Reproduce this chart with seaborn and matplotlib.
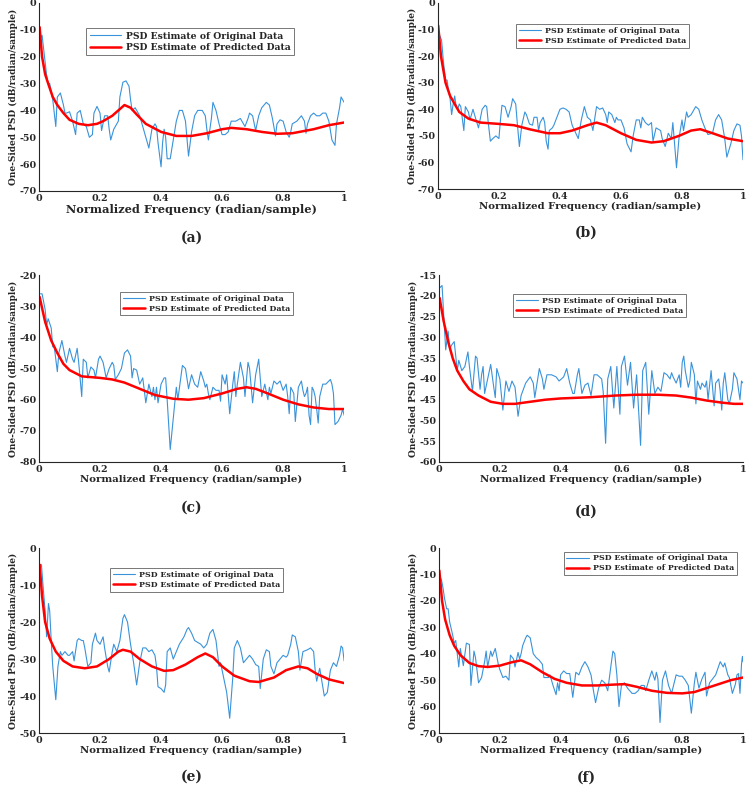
import numpy as np
import matplotlib
matplotlib.use("Agg")
import matplotlib.pyplot as plt
import seaborn as sns

# ---- panel (a) ----
a_orig_f = [0.005, 0.01, 0.015, 0.025, 0.03, 0.035, 0.04, 0.045, 0.055, 0.06,
            0.07, 0.08, 0.085, 0.09, 0.10, 0.11, 0.12, 0.125, 0.135, 0.145,
            0.155, 0.165, 0.175, 0.18, 0.19, 0.20, 0.205, 0.215, 0.225, 0.23,
            0.235, 0.245, 0.255, 0.26, 0.265, 0.275, 0.285, 0.295, 0.30, 0.305,
            0.315, 0.33, 0.34, 0.35, 0.36, 0.37, 0.38, 0.385, 0.39, 0.40,
            0.405, 0.41, 0.415, 0.42, 0.43, 0.44, 0.45, 0.46, 0.47, 0.48,
            0.49, 0.50, 0.51, 0.52, 0.535, 0.545, 0.55, 0.555, 0.565, 0.57,
            0.58, 0.59, 0.60, 0.61, 0.62, 0.63, 0.645, 0.66, 0.67, 0.675,
            0.685, 0.69, 0.70, 0.71, 0.72, 0.73, 0.745, 0.755, 0.765, 0.775,
            0.78, 0.79, 0.80, 0.81, 0.82, 0.825, 0.83, 0.845, 0.86, 0.87,
            0.875, 0.88, 0.89, 0.90, 0.91, 0.92, 0.93, 0.94, 0.95, 0.96,
            0.97, 0.975, 0.985, 0.99, 1.0]
a_orig_psd = [-13, -12, -17, -27, -30, -30, -33, -36, -46, -35,
              -33.5, -38, -41, -41, -40.5, -44, -49, -41, -40, -45,
              -46, -50, -49, -41, -38.5, -41, -47.5, -42, -42, -47,
              -51, -47, -45, -44, -35, -29.5, -29, -31, -36, -40,
              -39, -42, -46, -50, -54, -47, -45, -46, -52, -61,
              -52, -47, -50, -58, -58, -51, -44, -40, -40, -44,
              -57, -48, -42, -40, -40, -42, -47, -51, -43, -37,
              -40, -45, -49, -49, -48, -44, -44, -43, -45, -46,
              -43, -41, -42, -47.5, -42, -39, -37, -38, -43, -49.5,
              -45, -43.5, -44, -48, -50, -48, -45, -44, -42, -44,
              -48.5, -45, -42, -41, -42, -42, -41, -41, -44, -51,
              -53, -45, -39, -35, -37]
a_pred_f = [0.002, 0.01, 0.02, 0.03, 0.045, 0.06, 0.08, 0.1, 0.13, 0.16,
            0.19, 0.21, 0.24, 0.265, 0.28, 0.3, 0.32, 0.35, 0.4, 0.45,
            0.5, 0.55, 0.6, 0.63, 0.68, 0.73, 0.78, 0.83, 0.9, 0.95, 1.0]
a_pred_psd = [-9, -20, -26.5, -30, -35, -38, -41, -43.5, -45, -45.5,
              -45, -44, -42, -39.5, -38, -39, -41.5, -45, -48, -49.5,
              -49.5, -48.5, -47, -46.5, -47, -48, -48.7, -48.5, -47, -45.5, -44.5]

# ---- panel (b) ----
b_orig_f = [0.005, 0.012, 0.018, 0.025, 0.03, 0.035, 0.04, 0.045, 0.05, 0.055,
            0.06, 0.065, 0.07, 0.075, 0.085, 0.09, 0.10, 0.105, 0.115, 0.12,
            0.133, 0.145, 0.155, 0.16, 0.165, 0.172, 0.18, 0.19, 0.20, 0.205,
            0.21, 0.22, 0.23, 0.24, 0.245, 0.255, 0.26, 0.267, 0.275, 0.285,
            0.29, 0.30, 0.31, 0.315, 0.325, 0.33, 0.335, 0.345, 0.35, 0.355,
            0.361, 0.365, 0.375, 0.38, 0.39, 0.40, 0.41, 0.42, 0.43, 0.44,
            0.46, 0.47, 0.48, 0.49, 0.50, 0.508, 0.52, 0.53, 0.54, 0.55,
            0.555, 0.56, 0.57, 0.58, 0.585, 0.59, 0.60, 0.61, 0.62, 0.633,
            0.64, 0.65, 0.66, 0.665, 0.67, 0.68, 0.69, 0.70, 0.705, 0.715,
            0.73, 0.735, 0.745, 0.755, 0.765, 0.77, 0.775, 0.782, 0.79, 0.80,
            0.805, 0.815, 0.82, 0.83, 0.845, 0.855, 0.865, 0.875, 0.885, 0.90,
            0.91, 0.92, 0.93, 0.94, 0.947, 0.96, 0.97, 0.98, 0.99, 0.995,
            1.0]
b_orig_psd = [-12, -14, -22, -29, -29, -33, -36, -42, -38, -35,
              -39, -40, -38, -39, -48, -39, -41, -44, -40, -42,
              -47, -40, -38.5, -39, -45, -52, -51, -50, -51, -44,
              -38.5, -39, -43, -39, -36, -38, -45, -54, -46, -41,
              -42, -45.5, -46, -43, -43, -48, -45, -43, -45, -52,
              -55, -48, -47, -46, -43, -40, -39.5, -40, -41, -46,
              -51, -44, -39, -43, -44, -48, -39, -40, -39.5, -42,
              -45, -41, -42, -45, -43, -44, -44, -47, -53, -56,
              -50, -44, -44, -47, -43, -45, -46, -45, -52, -47,
              -48, -51, -54, -49, -51, -45, -52, -62, -51, -44,
              -48, -41, -43, -42, -39, -40, -44, -47, -49.5, -49,
              -44, -42, -44, -51, -58, -53, -48, -45.5, -46, -50,
              -59]
b_pred_f = [0.001, 0.01, 0.025, 0.04, 0.05, 0.07, 0.1, 0.14, 0.2, 0.25,
            0.3, 0.36, 0.4, 0.44, 0.49, 0.52, 0.55, 0.6, 0.65, 0.7,
            0.74, 0.79, 0.83, 0.86, 0.9, 0.95, 1.0]
b_pred_psd = [-8.5, -20, -30, -35, -37, -41, -43.5, -45, -45.5, -46,
              -47.5, -49, -49, -48, -46, -45, -46, -49, -51.5, -52.5,
              -52, -50, -48, -47.5, -49, -51, -52]

# ---- panel (c) ----
c_orig_f = [0.005, 0.01, 0.02, 0.025, 0.03, 0.04, 0.045, 0.05, 0.06, 0.065,
            0.075, 0.085, 0.09, 0.10, 0.11, 0.115, 0.125, 0.13, 0.14, 0.145,
            0.155, 0.16, 0.17, 0.18, 0.185, 0.195, 0.20, 0.21, 0.22, 0.23,
            0.24, 0.245, 0.25, 0.26, 0.27, 0.28, 0.29, 0.30, 0.305, 0.31,
            0.32, 0.33, 0.34, 0.345, 0.35, 0.36, 0.37, 0.375, 0.38, 0.385,
            0.39, 0.40, 0.41, 0.415, 0.42, 0.43, 0.44, 0.45, 0.455, 0.47,
            0.48, 0.49, 0.50, 0.51, 0.52, 0.53, 0.54, 0.545, 0.55, 0.555,
            0.56, 0.57, 0.58, 0.59, 0.595, 0.60, 0.61, 0.615, 0.625, 0.635,
            0.64, 0.645, 0.65, 0.66, 0.67, 0.675, 0.685, 0.69, 0.70, 0.71,
            0.72, 0.73, 0.74, 0.75, 0.755, 0.76, 0.77, 0.78, 0.79, 0.80,
            0.81, 0.815, 0.82, 0.825, 0.835, 0.84, 0.85, 0.86, 0.865, 0.87,
            0.875, 0.88, 0.885, 0.89, 0.895, 0.90, 0.905, 0.91, 0.915, 0.92,
            0.93, 0.94, 0.95, 0.955, 0.96, 0.965, 0.97, 0.98, 0.99, 0.995,
            1.0]
c_orig_psd = [-26, -26, -31, -36, -34, -37, -43, -43, -51, -45,
              -41, -46, -48, -43.5, -47, -48, -43.5, -48, -59, -47,
              -48, -53, -49.5, -50.5, -53, -47, -46, -48, -53, -50,
              -48, -49, -53.5, -52, -50, -45, -44, -46, -53, -50,
              -50.5, -55, -53, -57, -61, -55, -59, -56, -60, -56,
              -61, -55, -53, -53, -60, -76, -66, -56, -60, -49,
              -50, -56.5, -52, -55, -56, -51, -54, -56, -55, -58,
              -60, -56, -57, -57, -60.5, -52, -55, -52, -64.5, -55,
              -51, -59, -55, -48, -53, -59, -48, -50, -61, -52,
              -47, -59, -55, -60, -56, -58, -54, -55, -54, -57,
              -55, -59, -64.5, -56, -58, -67, -56, -54, -57, -59,
              -58, -56, -65, -68, -56, -57, -59, -63, -67.5, -59,
              -55, -55, -54, -53.5, -55, -58, -68, -67, -65, -63,
              -65]
c_pred_f = [0.002, 0.02, 0.04, 0.06, 0.08, 0.1, 0.14, 0.2, 0.24, 0.28,
            0.33, 0.38, 0.44, 0.49, 0.54, 0.6, 0.65, 0.68, 0.71, 0.75,
            0.8, 0.85, 0.9, 0.95, 1.0]
c_pred_psd = [-27, -35, -41, -45, -48.5, -50.5, -52.5, -53, -53.5, -54.5,
              -56.5, -58.5, -59.7, -60, -59.5, -58, -56.5, -56, -56.5, -58,
              -60, -61.5, -62.5, -63, -63]

# ---- panel (d) ----
d_orig_f = [0.003, 0.01, 0.015, 0.022, 0.03, 0.035, 0.04, 0.05, 0.06, 0.065,
            0.075, 0.085, 0.095, 0.10, 0.11, 0.12, 0.125, 0.135, 0.14, 0.145,
            0.15, 0.16, 0.17, 0.18, 0.185, 0.19, 0.20, 0.21, 0.22, 0.23,
            0.24, 0.25, 0.26, 0.27, 0.285, 0.30, 0.31, 0.315, 0.33, 0.34,
            0.345, 0.355, 0.37, 0.385, 0.395, 0.41, 0.42, 0.43, 0.44, 0.445,
            0.455, 0.46, 0.47, 0.48, 0.49, 0.50, 0.51, 0.52, 0.535, 0.54,
            0.548, 0.555, 0.565, 0.575, 0.585, 0.595, 0.60, 0.61, 0.62, 0.63,
            0.64, 0.65, 0.663, 0.67, 0.68, 0.69, 0.70, 0.71, 0.72, 0.73,
            0.74, 0.75, 0.76, 0.765, 0.77, 0.78, 0.785, 0.79, 0.795, 0.80,
            0.805, 0.81, 0.82, 0.825, 0.83, 0.84, 0.845, 0.85, 0.86, 0.865,
            0.875, 0.88, 0.885, 0.895, 0.905, 0.91, 0.92, 0.925, 0.93, 0.935,
            0.94, 0.95, 0.955, 0.965, 0.97, 0.98, 0.99, 0.995, 1.0]
d_orig_psd = [-18, -17.5, -24, -33, -28.5, -33, -32, -31, -38, -35.5,
              -38, -37, -33.5, -37, -43, -34.5, -35, -42.5, -39, -37,
              -43.5, -40, -36.5, -42, -44.5, -37.5, -40, -47.5, -40.5, -43,
              -40.5, -42, -49, -44, -41, -39.5, -41, -44.5, -37.5, -40,
              -42.5, -39, -39, -39.5, -40.5, -39.5, -37.5, -41, -43.5, -43.5,
              -39, -37.5, -43.5, -41.5, -41, -44, -39, -39, -40, -43,
              -55.5, -40, -37, -47, -37, -48.5, -37, -34.5, -41.5, -36,
              -47, -39, -56, -38, -36, -48.5, -38, -43.5, -42, -43,
              -38.5, -39, -40, -38.5, -39.5, -41, -40, -39, -42, -36,
              -34.5, -38, -42, -40.5, -36, -39, -46, -40.5, -42.5, -41,
              -42, -40.5, -45, -38, -46.5, -41, -40, -43, -47.5, -41,
              -38.5, -45, -46, -42.5, -38.5, -40, -45, -40.5, -41]
d_pred_f = [0.002, 0.015, 0.03, 0.045, 0.06, 0.08, 0.1, 0.13, 0.17, 0.21,
            0.25, 0.3, 0.35, 0.4, 0.5, 0.58, 0.65, 0.72, 0.78, 0.83,
            0.88, 0.93, 0.97, 1.0]
d_pred_psd = [-20.5, -26, -31, -35, -38, -40.5, -42.5, -44, -45.5, -46,
              -46, -45.5, -45, -44.7, -44.4, -44, -43.8, -43.8, -44, -44.5,
              -45.2, -45.7, -46, -46]

# ---- panel (e) ----
e_orig_f = [0.003, 0.008, 0.013, 0.02, 0.025, 0.031, 0.035, 0.04, 0.045, 0.055,
            0.062, 0.07, 0.075, 0.085, 0.095, 0.10, 0.11, 0.115, 0.125, 0.13,
            0.14, 0.145, 0.15, 0.16, 0.17, 0.175, 0.185, 0.19, 0.20, 0.21,
            0.215, 0.225, 0.23, 0.24, 0.245, 0.255, 0.265, 0.275, 0.28, 0.29,
            0.30, 0.31, 0.32, 0.33, 0.34, 0.35, 0.36, 0.37, 0.38, 0.385,
            0.39, 0.40, 0.41, 0.415, 0.42, 0.43, 0.44, 0.445, 0.46, 0.475,
            0.485, 0.49, 0.50, 0.51, 0.52, 0.53, 0.54, 0.55, 0.56, 0.57,
            0.58, 0.59, 0.595, 0.60, 0.615, 0.625, 0.635, 0.64, 0.65, 0.66,
            0.67, 0.68, 0.69, 0.70, 0.71, 0.72, 0.725, 0.735, 0.745, 0.755,
            0.76, 0.77, 0.78, 0.79, 0.80, 0.81, 0.815, 0.825, 0.83, 0.84,
            0.85, 0.855, 0.865, 0.88, 0.89, 0.90, 0.905, 0.91, 0.92, 0.925,
            0.935, 0.945, 0.955, 0.965, 0.975, 0.985, 0.99, 0.995, 1.0]
e_orig_psd = [-4.5, -4.5, -10, -17, -24, -15, -17, -25, -32, -41,
              -32, -28, -29, -28, -29, -29, -28, -30.5, -25, -24.5,
              -25, -25, -27, -32, -31, -26, -23, -25, -26, -24,
              -27, -32, -33.5, -28, -26, -28, -25, -19, -18, -20,
              -26, -31, -37, -31, -27, -27, -28, -27.5, -29, -32,
              -37.5, -38, -39, -37, -28, -27, -30, -29, -26, -24,
              -22, -21.5, -23, -25, -25.5, -26, -27, -26, -23, -22,
              -25, -32, -31, -33, -39, -46, -35, -27, -25, -27,
              -31, -30, -29, -30, -31.5, -32, -38, -30, -27.5, -28,
              -32, -34, -31, -30, -29, -29.5, -29, -26, -23.5, -24,
              -28, -33, -28, -27.5, -27, -28, -33, -36, -32.5, -35,
              -40, -39, -33, -31, -32, -29, -26.5, -27, -30.5]
e_pred_f = [0.002, 0.01, 0.02, 0.035, 0.055, 0.08, 0.11, 0.15, 0.19, 0.23,
            0.26, 0.275, 0.3, 0.33, 0.37, 0.41, 0.44, 0.48, 0.52, 0.545,
            0.57, 0.6, 0.64, 0.69, 0.72, 0.77, 0.81, 0.85, 0.88, 0.91,
            0.95, 1.0]
e_pred_psd = [-4.5, -13, -20, -24.5, -28, -30.5, -32, -32.5, -32, -30,
              -28, -27.5, -28, -30, -32, -33.2, -33, -31.5, -29.5, -28.5,
              -29.5, -32, -34.5, -36, -36.2, -35, -33, -32, -32.5, -34,
              -35.5, -36.5]

# ---- panel (f) ----
f_orig_f = [0.003, 0.008, 0.013, 0.018, 0.025, 0.03, 0.035, 0.045, 0.05, 0.055,
            0.06, 0.065, 0.07, 0.08, 0.09, 0.10, 0.105, 0.115, 0.12, 0.13,
            0.14, 0.15, 0.155, 0.16, 0.17, 0.175, 0.185, 0.195, 0.20, 0.21,
            0.22, 0.23, 0.235, 0.245, 0.25, 0.26, 0.265, 0.27, 0.275, 0.285,
            0.29, 0.30, 0.305, 0.31, 0.32, 0.33, 0.34, 0.345, 0.36, 0.365,
            0.375, 0.385, 0.39, 0.395, 0.40, 0.41, 0.42, 0.43, 0.44, 0.45,
            0.46, 0.47, 0.48, 0.49, 0.50, 0.508, 0.515, 0.525, 0.535, 0.545,
            0.555, 0.565, 0.572, 0.578, 0.585, 0.592, 0.60, 0.61, 0.62, 0.635,
            0.645, 0.655, 0.665, 0.675, 0.68, 0.69, 0.70, 0.71, 0.715, 0.72,
            0.727, 0.735, 0.745, 0.755, 0.765, 0.78, 0.79, 0.80, 0.81, 0.82,
            0.83, 0.84, 0.845, 0.855, 0.865, 0.875, 0.88, 0.89, 0.90, 0.91,
            0.925, 0.935, 0.94, 0.95, 0.955, 0.965, 0.975, 0.98, 0.985, 0.99,
            0.995, 0.998, 1.0]
f_orig_psd = [-11, -12, -15, -19, -23, -23, -28, -33, -36, -35,
              -40, -45, -38, -44.5, -36, -36.5, -52, -39, -41.5, -51,
              -49, -43, -39, -45, -39, -41, -38, -44, -46, -49,
              -48.5, -50, -40.5, -42, -45, -39.5, -42, -40, -37, -34,
              -33, -34, -37, -40, -41.5, -42.5, -44, -49, -49, -48,
              -52, -55.5, -51, -54, -48, -46.5, -47.5, -47.5, -56.5, -47,
              -48, -45, -43, -45, -48, -54, -58.5, -53, -50, -51,
              -54, -45, -39, -40, -48, -60, -52, -51, -53, -55,
              -55, -54, -52, -52, -54, -50, -46.5, -50, -47, -49.5,
              -66, -50, -46.5, -52, -55, -48, -48.5, -48.5, -50, -52,
              -62.5, -51, -47, -53, -49.5, -47, -56, -51, -49.5, -48,
              -43, -45, -43.5, -48, -49, -55, -51.5, -48, -47.5, -55,
              -44, -41, -43]
f_pred_f = [0.001, 0.01, 0.02, 0.035, 0.05, 0.07, 0.1, 0.13, 0.16, 0.2,
            0.24, 0.27, 0.3, 0.34, 0.38, 0.42, 0.47, 0.52, 0.57, 0.61,
            0.65, 0.7, 0.75, 0.8, 0.84, 0.88, 0.92, 0.96, 1.0]
f_pred_psd = [-8.5, -20, -27, -33, -37, -40.5, -43.5, -44.7, -45, -44.5,
              -43.2, -42.5, -44, -47, -49.5, -51, -52, -52, -51.7, -51.5,
              -52.5, -54, -54.8, -55, -54.5, -53, -51.5, -50, -49]

panel_names = ["(a)", "(b)", "(c)", "(d)", "(e)", "(f)"]
ylims = [(-70, 0), (-70, 0), (-80, -20), (-60, -15), (-50, 0), (-70, 0)]
ysteps = [10, 10, 10, 5, 10, 10]
xticks = [0, 0.2, 0.4, 0.6, 0.8, 1.0]
xticklabels = ["0", "0.2", "0.4", "0.6", "0.8", "1"]

sns.set_style("white")
plt.rcParams["font.family"] = ["DejaVu Serif"]
plt.rcParams["font.weight"] = "bold"
plt.rcParams["axes.unicode_minus"] = False

fig = plt.figure(figsize=(7.46, 7.85), dpi=100)

# axes boxes in figure fraction: left, bottom, width, height
boxes = [(0.0523, 0.7567, 0.409, 0.2395), (0.587, 0.7592, 0.409, 0.237),
         (0.0523, 0.4115, 0.409, 0.238), (0.5885, 0.4115, 0.4075, 0.238),
         (0.0523, 0.0662, 0.409, 0.2357), (0.5885, 0.0662, 0.4075, 0.2357)]
# legend upper-left corners in axes fraction; panel (a) was pasted a bit larger
leg_pos = [(0.155, 0.865), (0.256, 0.887), (0.266, 0.91),
           (0.243, 0.90), (0.233, 0.892), (0.41, 0.98)]
leg_size = [6.7, 5.7, 5.7, 5.7, 5.7, 5.7]
leg_handle = [3.4, 2.8, 2.8, 2.8, 2.8, 2.8]
xlab_size = [8.2, 7.3, 7.3, 7.3, 7.3, 7.3]
# panel label positions (figure fraction)
lab_pos = [(0.257, 0.697), (0.786, 0.703), (0.257, 0.353),
           (0.786, 0.348), (0.257, 0.010), (0.786, 0.009)]

data = [(a_orig_f, a_orig_psd, a_pred_f, a_pred_psd),
        (b_orig_f, b_orig_psd, b_pred_f, b_pred_psd),
        (c_orig_f, c_orig_psd, c_pred_f, c_pred_psd),
        (d_orig_f, d_orig_psd, d_pred_f, d_pred_psd),
        (e_orig_f, e_orig_psd, e_pred_f, e_pred_psd),
        (f_orig_f, f_orig_psd, f_pred_f, f_pred_psd)]

for i, (of, op, pf, pp) in enumerate(data):
    ax = fig.add_axes(boxes[i])
    sns.lineplot(x=of, y=op, ax=ax, color="#3a93da", linewidth=0.8,
                 label="PSD Estimate of Original Data")
    sns.lineplot(x=pf, y=pp, ax=ax, color="#ff0000", linewidth=1.8,
                 label="PSD Estimate of Predicted Data")
    lo, hi = ylims[i]
    ax.set_xlim(0, 1)
    ax.set_ylim(lo, hi)
    ax.set_xticks(xticks)
    ax.set_xticklabels(xticklabels)
    yt = np.arange(lo, hi + 1, ysteps[i])
    ax.set_yticks(yt)
    ax.set_yticklabels([str(v) for v in yt])
    ax.tick_params(labelsize=6.8, direction="in", length=2, pad=2, colors="#262626")
    for lbl in ax.get_xticklabels() + ax.get_yticklabels():
        lbl.set_fontweight("bold")
    ax.set_xlabel("Normalized Frequency (radian/sample)", fontsize=xlab_size[i],
                  fontweight="bold", labelpad=1, color="#262626")
    ax.set_ylabel("One-Sided PSD (dB/radian/sample)", fontsize=6.5,
                  fontweight="bold", labelpad=1, color="#262626")
    sns.despine(ax=ax)
    for s in ("left", "bottom"):
        ax.spines[s].set_color("#262626")
        ax.spines[s].set_linewidth(0.8)
    leg = ax.legend(loc="upper left", bbox_to_anchor=leg_pos[i], borderaxespad=0,
                    frameon=True, fancybox=False, edgecolor="#777777",
                    framealpha=1, borderpad=0.35, labelspacing=0.25,
                    handlelength=leg_handle[i], handletextpad=0.5,
                    prop={"weight": "bold", "size": leg_size[i]})
    leg.get_frame().set_linewidth(0.7)
    fig.text(lab_pos[i][0], lab_pos[i][1], panel_names[i], ha="center",
             va="center", fontsize=10, fontweight="bold", family="DejaVu Serif")

fig.savefig("out.png", dpi=100)
